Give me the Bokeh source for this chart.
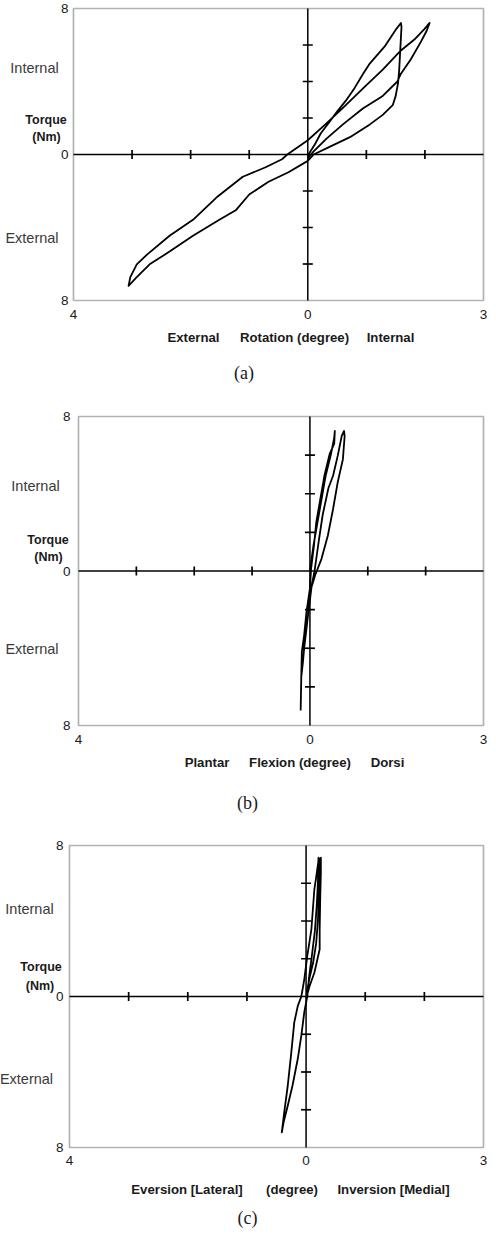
import numpy as np
from bokeh.plotting import figure
from bokeh.models import BoxAnnotation
from bokeh.core.properties import value
from bokeh.layouts import column
from bokeh.embed import file_html
from bokeh.resources import INLINE

# ---------------- data ----------------
x_ticks = [-4, 0, 3]
x_tick_labels = ["4", "0", "3"]
y_ticks = [-8, 0, 8]
y_tick_labels = ["8", "0", "8"]
cross_x_ticks = [-3, -2, -1, 1, 2]
cross_y_ticks = [-6, -4, -2, 2, 4, 6]

# (a) Rotation (degree) vs Torque (Nm)
a_x = [0.0, 0.12, 0.22, 0.35, 0.5, 0.65, 0.8, 0.95, 1.05, 1.31, 1.51, 1.59,
       1.60, 1.58, 1.56, 1.54, 1.50, 1.45, 1.28, 1.06, 0.72, 0.38, 0.1, 0.0,
       -0.33, -0.67, -1.0, -1.23, -1.51, -1.96, -2.36, -2.70, -2.92, -3.06,
       -3.03, -2.92, -2.75, -2.36, -1.96, -1.56, -1.11, -0.72, -0.44, -0.35,
       0.0, 0.3, 0.6, 0.97, 1.28, 1.59, 1.82, 1.99, 2.08,
       2.03, 1.93, 1.76, 1.59, 1.53, 1.28, 0.94, 0.6, 0.32, 0.1, 0.0]
a_y = [-0.05, 0.55, 1.15, 1.7, 2.35, 2.95, 3.65, 4.45, 4.95, 5.91, 6.87, 7.21,
       7.0, 5.8, 4.6, 3.9, 3.2, 2.7, 2.17, 1.65, 0.95, 0.43, 0.0, -0.35,
       -0.97, -1.49, -2.19, -3.06, -3.58, -4.45, -5.32, -6.02, -6.72, -7.2,
       -6.72, -6.02, -5.5, -4.45, -3.58, -2.36, -1.22, -0.70, -0.26, 0.0,
       0.78, 1.65, 2.55, 3.7, 4.65, 5.7, 6.3, 6.87, 7.21,
       6.78, 6.17, 5.22, 4.43, 4.0, 3.21, 2.52, 1.65, 0.87, 0.17, -0.2]

# (b) Flexion (degree) vs Torque (Nm)
b_x = [0.0, 0.06, 0.13, 0.2, 0.27, 0.36, 0.42, 0.43,
       0.42, 0.34, 0.25, 0.18, 0.11, 0.07, 0.02, 0.0, -0.06, -0.1, -0.14, -0.15, -0.16,
       -0.15, -0.12, -0.1, -0.06, -0.02, 0.03, 0.08, 0.15, 0.22, 0.32, 0.4, 0.48, 0.55, 0.59,
       0.6, 0.57, 0.48, 0.40, 0.31, 0.2, 0.09, 0.02]
b_y = [0.0, 1.3, 2.5, 3.7, 4.9, 6.0, 6.9, 7.25,
       6.6, 6.05, 4.93, 3.73, 2.53, 1.32, 0.12, -0.9, -2.13, -3.33, -4.19, -5.56, -7.18,
       -5.5, -4.7, -4.0, -3.0, -1.97, -0.77, 0.0, 1.5, 2.9, 4.3, 4.93, 5.96, 7.0, 7.25,
       6.99, 5.79, 4.59, 3.21, 1.84, 0.63, -0.22, -0.9]

# (c) Eversion/Inversion (degree) vs Torque (Nm)
c_x = [0.0, 0.06, 0.14, 0.23, 0.23, 0.24, 0.25, 0.25,
       0.21, 0.17, 0.14, 0.09, 0.02, -0.03, -0.08, -0.14, -0.2, -0.25, -0.31, -0.37, -0.41,
       -0.38, -0.31, -0.23, -0.14, -0.08, -0.03, 0.02, 0.05, 0.1, 0.15, 0.18, 0.2, 0.21,
       0.23, 0.22, 0.2, 0.17, 0.12, 0.06, 0.01]
c_y = [-0.1, 0.56, 1.26, 2.5, 3.56, 5.32, 6.5, 7.35,
       7.2, 6.3, 5.67, 3.56, 2.14, 0.91, 0.0, -0.5, -1.38, -2.97, -4.73, -6.15, -7.2,
       -6.67, -5.79, -4.73, -3.3, -2.06, -0.83, 0.0, 1.0, 2.2, 3.5, 4.8, 6.0, 7.35,
       7.0, 5.5, 4.0, 2.8, 1.8, 1.0, 0.2]

SANS = "Liberation Sans"
SERIF = "Liberation Serif"
INK = "#1a1a1a"
GREY = "#3a3a3a"

X0, X1, Y0, Y1 = -4, 3, -8, 8
W = 488
PAGE_LEFT = 8


def make_panel(height, fig_top, L, R, T, B, xs, ys, ylab_pos, xtitles, caption,
               y_lab_gap, x_lab_gap):
    # pixel <-> data mapping so that the plot box [-4,3]x[-8,8] sits at L..R, T..B
    def px2x(px):
        return X0 + (px - L) / (R - L) * (X1 - X0)

    def py2y(py):
        return Y1 - (py - T) / (B - T) * (Y1 - Y0)

    p = figure(width=W, height=height,
               x_range=(px2x(PAGE_LEFT), px2x(PAGE_LEFT + W)),
               y_range=(py2y(fig_top + height), py2y(fig_top)),
               output_backend="svg", toolbar_location=None, title=None,
               x_axis_type=None, y_axis_type=None,
               min_border=0, min_border_left=0, min_border_right=0,
               min_border_top=0, min_border_bottom=0)
    p.outline_line_color = None
    p.background_fill_color = "white"
    p.border_fill_color = "white"
    p.grid.visible = False

    # plot box
    p.add_layout(BoxAnnotation(left=X0, right=X1, bottom=Y0, top=Y1,
                               fill_alpha=0, line_color="black", line_width=1.7))
    # cross axes through the origin
    p.line([X0, X1], [0, 0], line_color="black", line_width=1.5)
    p.line([0, 0], [Y0, Y1], line_color="black", line_width=1.5)
    p.scatter(cross_x_ticks, [0] * len(cross_x_ticks), marker="dash", size=9,
              angle=np.pi / 2, line_color="black", line_width=1.7)
    p.scatter([0] * len(cross_y_ticks), cross_y_ticks, marker="dash", size=10,
              line_color="black", line_width=1.7)

    # tick labels (outside the box)
    p.text(x=x_ticks, y=[Y0] * len(x_ticks), text=x_tick_labels,
           text_align="center", text_baseline="middle", y_offset=x_lab_gap,
           text_font=value(SANS), text_font_size="13.5px", text_color=INK)
    p.text(x=[X0] * len(y_ticks), y=y_ticks, text=y_tick_labels,
           text_align="right", text_baseline="middle", x_offset=-y_lab_gap,
           text_font=value(SANS), text_font_size="13.5px", text_color=INK)

    # hysteresis curve
    p.line(xs, ys, line_color="black", line_width=1.8, line_join="round")

    def text(txt, px, py, size, bold=False, font=SANS, color=INK):
        p.text(x=[px2x(px)], y=[py2y(py)], text=[txt], text_align="center",
               text_baseline="middle", text_font=value(font),
               text_font_size=f"{size}px", text_color=color,
               text_font_style="bold" if bold else "normal")

    (ix, iy), (tx, ty), (nx, ny), (ex, ey) = ylab_pos
    text("Internal", ix, iy, 14.5, color=GREY)
    text("Torque", tx, ty, 12.5, bold=True)
    text("(Nm)", nx, ny, 12.5, bold=True)
    text("External", ex, ey, 14.5, color=GREY)
    for t, px, py in xtitles:
        text(t, px, py, 13.2, bold=True)
    text(caption[0], caption[1], caption[2], 18, font=SERIF)
    return p


pa = make_panel(395, 8, 81, 491, 16, 308, a_x, a_y,
                [(42, 75), (53.5, 127), (54, 144), (39.5, 245)],
                [("External", 201, 345), ("Rotation (degree)", 302, 345), ("Internal", 398, 345)],
                ("(a)", 251.5, 380), 5, 14)
pb = make_panel(419, 403, 86, 491, 424, 733, b_x, b_y,
                [(43, 493), (55.5, 547), (56, 564), (39.5, 656)],
                [("Plantar", 214.5, 770), ("Flexion (degree)", 307.5, 770), ("Dorsi", 395, 770)],
                ("(b)", 255, 810), 8, 14)
pc = make_panel(414, 822, 77, 491, 853, 1155, c_x, c_y,
                [(37, 916), (48.5, 974), (47.5, 993), (34, 1086)],
                [("Eversion [Lateral]", 194.5, 1197), ("(degree)", 299.5, 1197),
                 ("Inversion [Medial]", 401, 1197)],
                ("(c)", 255, 1225), 6, 13)

layout = column(pa, pb, pc, spacing=0)
open("out.html", "w").write(file_html(layout, INLINE))
